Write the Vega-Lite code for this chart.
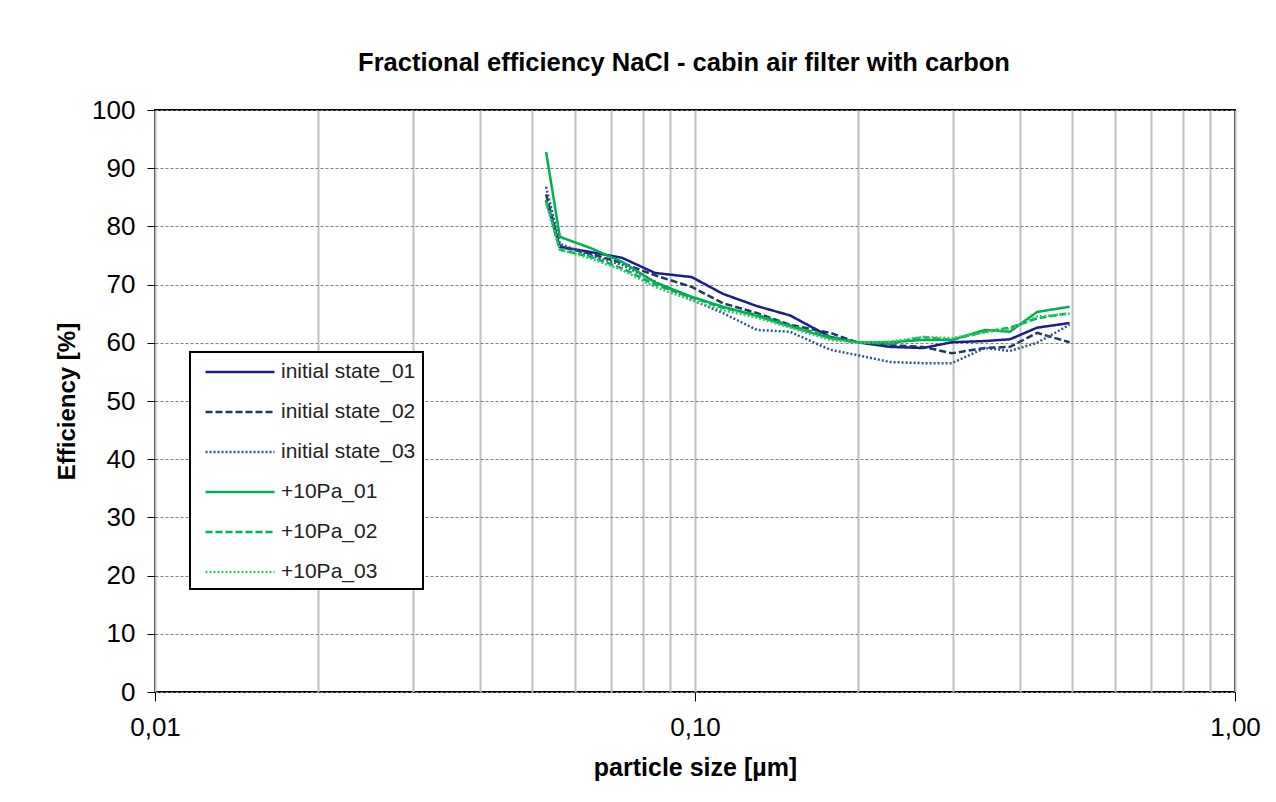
{
  "$schema": "https://vega.github.io/schema/vega-lite/v6.json",
  "width": 1080,
  "height": 582,
  "autosize": {"type": "none"},
  "padding": {"left": 155, "top": 110, "right": 41, "bottom": 110},
  "background": "white",
  "title": {"text": "Fractional efficiency NaCl - cabin air filter with carbon", "fontSize": 25.5, "font": "Liberation Sans", "fontWeight": "bold", "color": "black", "offset": 21, "dx": -11},
  "data": {"values": [
    {"x": 0.053, "series": "initial state_01", "v": 84.5},
    {"x": 0.0562, "series": "initial state_01", "v": 76.5},
    {"x": 0.064, "series": "initial state_01", "v": 75.6},
    {"x": 0.0733, "series": "initial state_01", "v": 74.6},
    {"x": 0.0843, "series": "initial state_01", "v": 72.0},
    {"x": 0.0986, "series": "initial state_01", "v": 71.3},
    {"x": 0.1127, "series": "initial state_01", "v": 68.4},
    {"x": 0.1303, "series": "initial state_01", "v": 66.3},
    {"x": 0.150, "series": "initial state_01", "v": 64.7},
    {"x": 0.178, "series": "initial state_01", "v": 61.0},
    {"x": 0.1995, "series": "initial state_01", "v": 60.1},
    {"x": 0.2296, "series": "initial state_01", "v": 59.3},
    {"x": 0.2642, "series": "initial state_01", "v": 59.1},
    {"x": 0.299, "series": "initial state_01", "v": 60.1},
    {"x": 0.344, "series": "initial state_01", "v": 60.3},
    {"x": 0.383, "series": "initial state_01", "v": 60.6},
    {"x": 0.430, "series": "initial state_01", "v": 62.6},
    {"x": 0.494, "series": "initial state_01", "v": 63.4},

    {"x": 0.053, "series": "initial state_02", "v": 85.5},
    {"x": 0.0562, "series": "initial state_02", "v": 76.5},
    {"x": 0.064, "series": "initial state_02", "v": 75.3},
    {"x": 0.0733, "series": "initial state_02", "v": 73.7},
    {"x": 0.0843, "series": "initial state_02", "v": 71.6},
    {"x": 0.0986, "series": "initial state_02", "v": 69.6},
    {"x": 0.1127, "series": "initial state_02", "v": 66.8},
    {"x": 0.1303, "series": "initial state_02", "v": 65.1},
    {"x": 0.150, "series": "initial state_02", "v": 63.1},
    {"x": 0.178, "series": "initial state_02", "v": 61.7},
    {"x": 0.1995, "series": "initial state_02", "v": 60.1},
    {"x": 0.2296, "series": "initial state_02", "v": 59.6},
    {"x": 0.2642, "series": "initial state_02", "v": 59.3},
    {"x": 0.299, "series": "initial state_02", "v": 58.2},
    {"x": 0.344, "series": "initial state_02", "v": 59.1},
    {"x": 0.383, "series": "initial state_02", "v": 59.3},
    {"x": 0.430, "series": "initial state_02", "v": 61.7},
    {"x": 0.494, "series": "initial state_02", "v": 60.1},

    {"x": 0.053, "series": "initial state_03", "v": 86.8},
    {"x": 0.0562, "series": "initial state_03", "v": 77.0},
    {"x": 0.064, "series": "initial state_03", "v": 75.0},
    {"x": 0.0733, "series": "initial state_03", "v": 73.4},
    {"x": 0.0843, "series": "initial state_03", "v": 70.5},
    {"x": 0.0986, "series": "initial state_03", "v": 67.4},
    {"x": 0.1127, "series": "initial state_03", "v": 65.1},
    {"x": 0.1303, "series": "initial state_03", "v": 62.2},
    {"x": 0.150, "series": "initial state_03", "v": 61.9},
    {"x": 0.178, "series": "initial state_03", "v": 58.8},
    {"x": 0.1995, "series": "initial state_03", "v": 57.9},
    {"x": 0.2296, "series": "initial state_03", "v": 56.7},
    {"x": 0.2642, "series": "initial state_03", "v": 56.5},
    {"x": 0.299, "series": "initial state_03", "v": 56.5},
    {"x": 0.344, "series": "initial state_03", "v": 59.1},
    {"x": 0.383, "series": "initial state_03", "v": 58.6},
    {"x": 0.430, "series": "initial state_03", "v": 60.0},
    {"x": 0.494, "series": "initial state_03", "v": 63.1},

    {"x": 0.053, "series": "+10Pa_01", "v": 92.8},
    {"x": 0.0562, "series": "+10Pa_01", "v": 78.2},
    {"x": 0.064, "series": "+10Pa_01", "v": 76.3},
    {"x": 0.0733, "series": "+10Pa_01", "v": 73.9},
    {"x": 0.0843, "series": "+10Pa_01", "v": 70.4},
    {"x": 0.0986, "series": "+10Pa_01", "v": 67.9},
    {"x": 0.1127, "series": "+10Pa_01", "v": 66.2},
    {"x": 0.1303, "series": "+10Pa_01", "v": 64.6},
    {"x": 0.150, "series": "+10Pa_01", "v": 62.8},
    {"x": 0.178, "series": "+10Pa_01", "v": 60.8},
    {"x": 0.1995, "series": "+10Pa_01", "v": 60.1},
    {"x": 0.2296, "series": "+10Pa_01", "v": 60.1},
    {"x": 0.2642, "series": "+10Pa_01", "v": 60.5},
    {"x": 0.299, "series": "+10Pa_01", "v": 60.5},
    {"x": 0.344, "series": "+10Pa_01", "v": 62.2},
    {"x": 0.383, "series": "+10Pa_01", "v": 61.9},
    {"x": 0.430, "series": "+10Pa_01", "v": 65.3},
    {"x": 0.494, "series": "+10Pa_01", "v": 66.2},

    {"x": 0.053, "series": "+10Pa_02", "v": 84.5},
    {"x": 0.0562, "series": "+10Pa_02", "v": 76.0},
    {"x": 0.064, "series": "+10Pa_02", "v": 74.8},
    {"x": 0.0733, "series": "+10Pa_02", "v": 72.8},
    {"x": 0.0843, "series": "+10Pa_02", "v": 70.0},
    {"x": 0.0986, "series": "+10Pa_02", "v": 67.8},
    {"x": 0.1127, "series": "+10Pa_02", "v": 66.0},
    {"x": 0.1303, "series": "+10Pa_02", "v": 64.8},
    {"x": 0.150, "series": "+10Pa_02", "v": 63.0},
    {"x": 0.178, "series": "+10Pa_02", "v": 61.0},
    {"x": 0.1995, "series": "+10Pa_02", "v": 60.1},
    {"x": 0.2296, "series": "+10Pa_02", "v": 59.8},
    {"x": 0.2642, "series": "+10Pa_02", "v": 61.0},
    {"x": 0.299, "series": "+10Pa_02", "v": 60.5},
    {"x": 0.344, "series": "+10Pa_02", "v": 61.9},
    {"x": 0.383, "series": "+10Pa_02", "v": 62.6},
    {"x": 0.430, "series": "+10Pa_02", "v": 64.2},
    {"x": 0.494, "series": "+10Pa_02", "v": 65.1},

    {"x": 0.053, "series": "+10Pa_03", "v": 84.0},
    {"x": 0.0562, "series": "+10Pa_03", "v": 76.0},
    {"x": 0.064, "series": "+10Pa_03", "v": 74.5},
    {"x": 0.0733, "series": "+10Pa_03", "v": 72.5},
    {"x": 0.0843, "series": "+10Pa_03", "v": 69.6},
    {"x": 0.0986, "series": "+10Pa_03", "v": 67.3},
    {"x": 0.1127, "series": "+10Pa_03", "v": 65.6},
    {"x": 0.1303, "series": "+10Pa_03", "v": 64.3},
    {"x": 0.150, "series": "+10Pa_03", "v": 62.6},
    {"x": 0.178, "series": "+10Pa_03", "v": 60.5},
    {"x": 0.1995, "series": "+10Pa_03", "v": 60.0},
    {"x": 0.2296, "series": "+10Pa_03", "v": 60.2},
    {"x": 0.2642, "series": "+10Pa_03", "v": 61.0},
    {"x": 0.299, "series": "+10Pa_03", "v": 60.8},
    {"x": 0.344, "series": "+10Pa_03", "v": 61.8},
    {"x": 0.383, "series": "+10Pa_03", "v": 62.4},
    {"x": 0.430, "series": "+10Pa_03", "v": 64.5},
    {"x": 0.494, "series": "+10Pa_03", "v": 65.0}
  ]},
  "mark": {"type": "line", "strokeWidth": 2.5},
  "encoding": {
    "x": {
      "field": "x", "type": "quantitative",
      "scale": {"type": "log", "domain": [0.01, 1], "nice": false},
      "axis": {
        "title": "particle size [µm]",
        "values": [0.01, 0.02, 0.03, 0.04, 0.05, 0.06, 0.07, 0.08, 0.09, 0.1, 0.2, 0.3, 0.4, 0.5, 0.6, 0.7, 0.8, 0.9, 1],
        "labelExpr": "datum.value == 0.01 ? '0,01' : (datum.value == 0.1 ? '0,10' : (datum.value == 1 ? '1,00' : ''))",
        "grid": true, "gridColor": "#bfbfbf", "gridWidth": 2,
        "domain": false,
        "ticks": true, "tickSize": 9, "tickColor": "black", "tickWidth": 1,
        "tickOpacity": {"condition": {"test": "datum.value == 0.01 || datum.value == 0.1 || datum.value == 1", "value": 1}, "value": 0},
        "labelPadding": 13, "labelFontSize": 26, "labelFont": "Liberation Sans", "labelColor": "black",
        "labelFlush": false, "labelOverlap": false,
        "titleFontSize": 25, "titleFont": "Liberation Sans", "titleFontWeight": "bold", "titleColor": "black", "titlePadding": 15
      }
    },
    "y": {
      "field": "v", "type": "quantitative",
      "scale": {"domain": [0, 100], "nice": false},
      "axis": {
        "title": "Efficiency [%]",
        "values": [0, 10, 20, 30, 40, 50, 60, 70, 80, 90, 100],
        "grid": true, "gridColor": "#808080", "gridWidth": 1, "gridDash": [3, 2],
        "domain": false,
        "ticks": true, "tickSize": 8, "tickColor": "black", "tickWidth": 1,
        "labelPadding": 12, "labelFontSize": 26, "labelFont": "Liberation Sans", "labelColor": "black",
        "titleFontSize": 24, "titleFont": "Liberation Sans", "titleFontWeight": "bold", "titleColor": "black", "titlePadding": 12
      }
    },
    "color": {
      "field": "series", "type": "nominal",
      "scale": {
        "domain": ["initial state_01", "initial state_02", "initial state_03", "+10Pa_01", "+10Pa_02", "+10Pa_03"],
        "range": ["#1c1c8c", "#203864", "#2f5597", "#00b050", "#00b050", "#33cc66"]
      },
      "legend": {"title": null}
    },
    "strokeDash": {
      "field": "series", "type": "nominal",
      "scale": {
        "domain": ["initial state_01", "initial state_02", "initial state_03", "+10Pa_01", "+10Pa_02", "+10Pa_03"],
        "range": [[1, 0], [7, 3], [2, 2], [1, 0], [7, 3], [2, 2]]
      },
      "legend": {"title": null}
    }
  },
  "config": {
    "view": {"stroke": "black", "strokeWidth": 2},
    "legend": {
      "orient": "none", "legendX": 35, "legendY": 242,
      "padding": 7, "strokeColor": "black", "strokeWidth": 2, "fillColor": "white",
      "symbolType": "M-3,0H3", "symbolSize": 529, "symbolStrokeWidth": 2.5,
      "symbolOffset": 30, "labelOffset": 28,
      "labelFontSize": 21, "labelFont": "Liberation Sans", "labelColor": "#222222",
      "rowPadding": 17, "cornerRadius": 0
    }
  }
}
